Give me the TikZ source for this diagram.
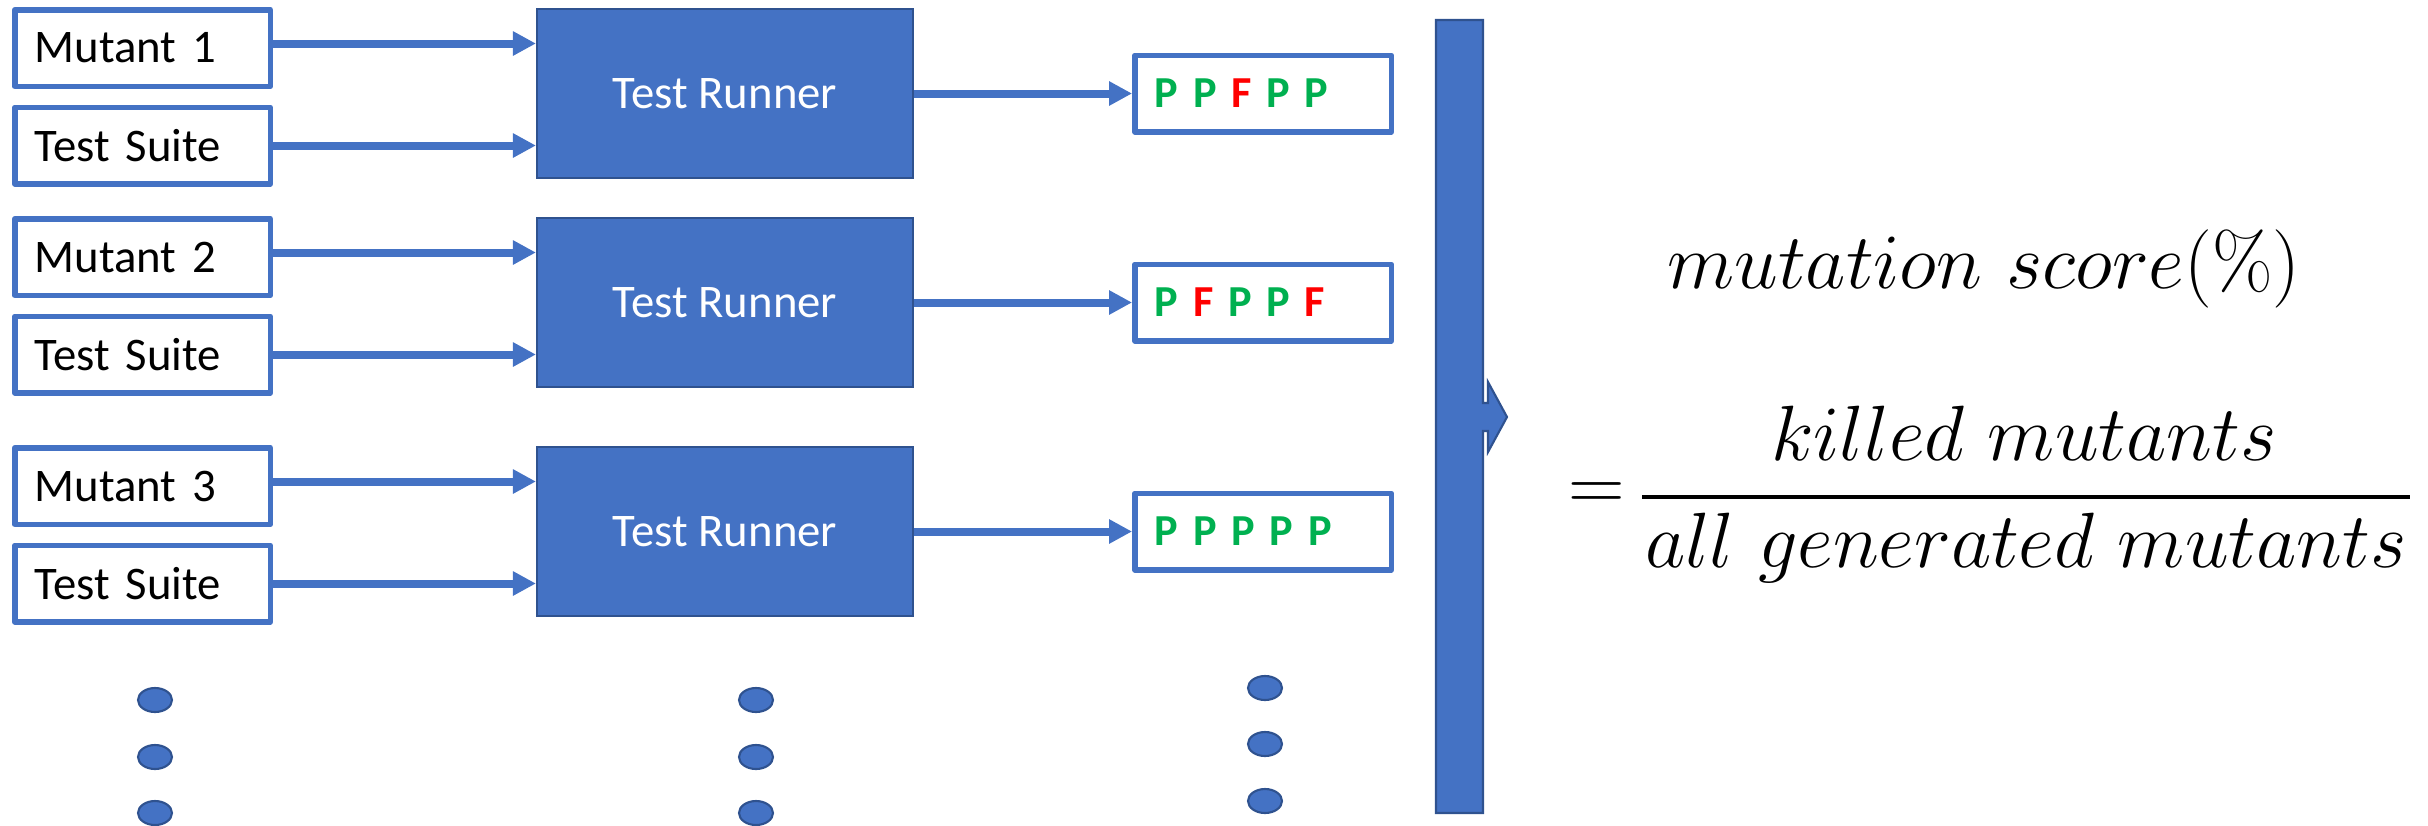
\RequirePackage{fix-cm}
\documentclass[tikz,border=0pt]{standalone}
\usepackage{fontspec}
\newfontfamily\calibri{Carlito}
\usetikzlibrary{arrows.meta,positioning,shapes.geometric}
\definecolor{officeblue}{HTML}{4472C4}
\definecolor{edgeblue}{HTML}{2F528F}
\definecolor{passgreen}{HTML}{00B050}
\definecolor{failred}{HTML}{FF0000}
\newcommand{\pass}{\textcolor{passgreen}{P}}
\newcommand{\fail}{\textcolor{failred}{F}}
\newcommand{\mathsize}{\fontsize{22.3}{27}\selectfont}

\begin{document}
\begin{tikzpicture}[node distance=2.18cm,
 every node/.style={font=\calibri\fontsize{13.3}{16}\selectfont},
 inbox/.style={rectangle,draw=officeblue,line width=0.055cm,line join=round,
   minimum width=2.555cm,minimum height=0.765cm,text width=2.155cm,
   inner xsep=0.2cm,align=left},
 result/.style={inbox,minimum width=2.565cm,text width=2.165cm,
   font=\calibri\bfseries\fontsize{12.6}{15}\selectfont},
 runner/.style={rectangle,draw=edgeblue,fill=officeblue,line width=0.6pt,
   minimum width=3.76cm,minimum height=1.69cm,text=white},
 flow/.style={draw=officeblue,line width=0.08cm,-{Triangle[length=0.23cm,width=0.23cm]}},
 dot/.style={ellipse,draw=edgeblue,fill=officeblue,line width=0.6pt,
   minimum width=0.34cm,minimum height=0.24cm,inner sep=0pt},
 math/.style={font=\mathsize,inner sep=0pt}]
\useasboundingbox (0,0) rectangle (24.28,-8.25);

% first mutant
\node[inbox] (m1) at (1.425,-0.48) {Mutant 1};
\node[inbox,below=0.155cm of m1] (s1) {Test Suite};
\node[runner] (r1) at (7.25,-0.935) {Test Runner};
\node[result,right=of r1] (o1) {\pass{} \pass{} \fail{} \pass{} \pass};

% second mutant
\node[inbox] (m2) at (1.425,-2.57) {Mutant 2};
\node[inbox,below=0.155cm of m2] (s2) {Test Suite};
\node[runner] (r2) at (7.25,-3.025) {Test Runner};
\node[result,right=of r2] (o2) {\pass{} \fail{} \pass{} \pass{} \fail};

% third mutant
\node[inbox] (m3) at (1.425,-4.86) {Mutant 3};
\node[inbox,below=0.155cm of m3] (s3) {Test Suite};
\node[runner] (r3) at (7.25,-5.315) {Test Runner};
\node[result,right=of r3] (o3) {\pass{} \pass{} \pass{} \pass{} \pass};

\draw[flow] ([yshift=0.045cm]m1.east) -- ([yshift=0.045cm]m1.east -| r1.west);
\draw[flow] (s1.east) -- (s1.east -| r1.west);
\draw[flow] (r1.east) -- (o1.west);
\draw[flow] ([yshift=0.045cm]m2.east) -- ([yshift=0.045cm]m2.east -| r2.west);
\draw[flow] (s2.east) -- (s2.east -| r2.west);
\draw[flow] (r2.east) -- (o2.west);
\draw[flow] ([yshift=0.045cm]m3.east) -- ([yshift=0.045cm]m3.east -| r3.west);
\draw[flow] (s3.east) -- (s3.east -| r3.west);
\draw[flow] (r3.east) -- (o3.west);

% and so on ...
\node[dot] (dm1) at (1.55,-7.00) {};
\node[dot] (dm2) at (1.55,-7.57) {};
\node[dot] (dm3) at (1.55,-8.13) {};
\node[dot] (dr1) at (7.56,-7.00) {};
\node[dot] (dr2) at (7.56,-7.57) {};
\node[dot] (dr3) at (7.56,-8.13) {};
\node[dot] (do1) at (12.65,-6.88) {};
\node[dot] (do2) at (12.65,-7.44) {};
\node[dot] (do3) at (12.65,-8.01) {};

% collecting bar
\fill[officeblue,draw=edgeblue,line width=0.6pt] (14.36,-0.20) -- (14.83,-0.20)
  -- (14.83,-4.03) -- (14.88,-4.03) -- (14.88,-3.82) -- (15.07,-4.17)
  -- (14.88,-4.52) -- (14.88,-4.31) -- (14.83,-4.31) -- (14.83,-8.13)
  -- (14.36,-8.13) -- cycle;

% score
\node[math,anchor=base] (score) at (19.84,-2.88) {$mutation\ score(\%)$};
\node[math] (eq) at (15.965,-4.97) {$=$};
\node[math,anchor=base] (num) at (20.24,-4.60) {$killed\ mutants$};
\node[math,anchor=base] (den) at (20.26,-5.67) {$all\ generated\ mutants$};
\draw[line width=0.04cm] ([xshift=-0.02cm]den.west |- eq.center)
  -- ([xshift=0.02cm]den.east |- eq.center);
\end{tikzpicture}
\end{document}
